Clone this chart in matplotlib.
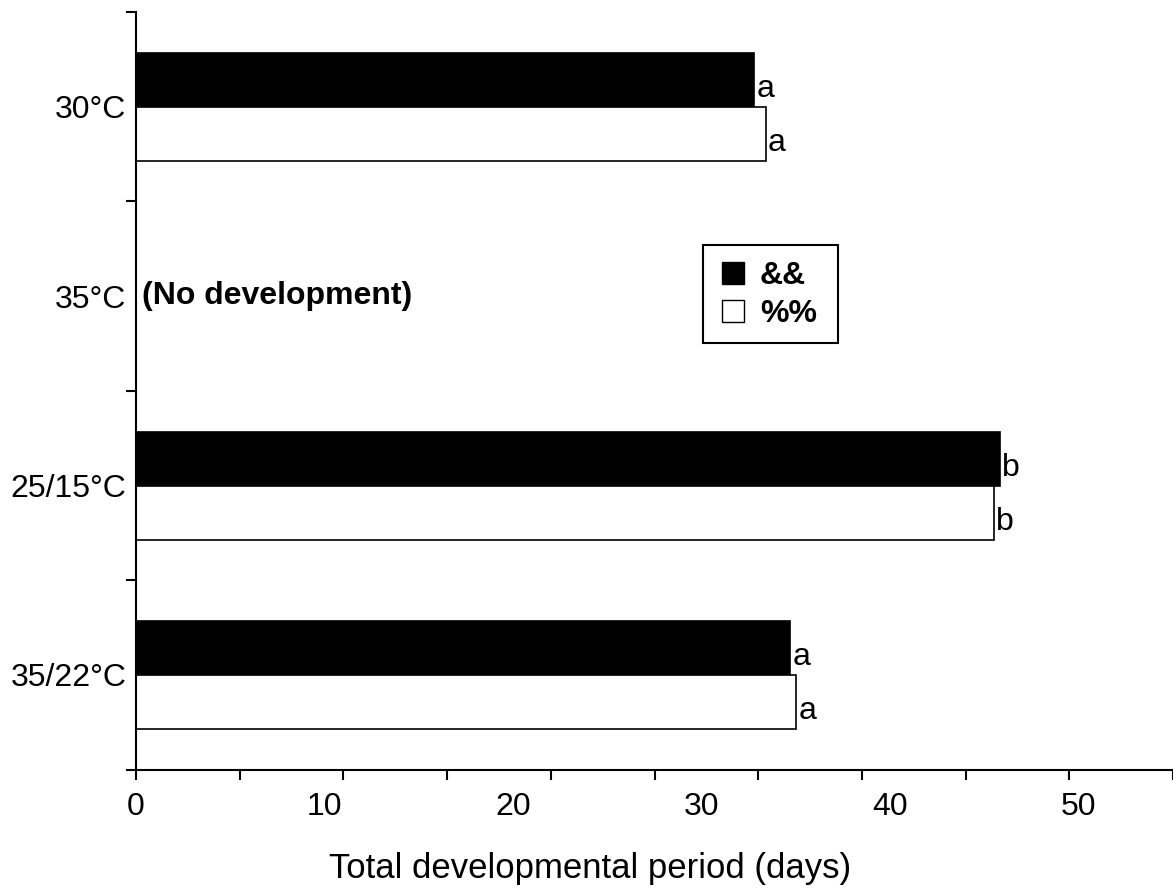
import numpy as np
import matplotlib
matplotlib.use('Agg')
import matplotlib.pyplot as plt
from matplotlib.patches import Patch, Rectangle

plt.rcParams['font.family'] = ['Liberation Sans', 'DejaVu Sans']

# Treatments, top to bottom
treatments = ['30°C', '35°C', '25/15°C', '35/22°C']
# Total developmental period (days); None = no development
males = [32.8, None, 45.8, 34.7]
females = [33.4, None, 45.5, 35.0]
male_letters = ['a', None, 'b', 'a']
female_letters = ['a', None, 'b', 'a']
tick_labels = [0, 10, 20, 30, 40, 50]

FS = 23

fig = plt.figure(figsize=(11.73, 8.96), dpi=100)
ax = fig.add_axes([0.116, 0.141, 0.884, 0.8456])

bar_h = 0.285
centers = np.arange(len(treatments)) + 0.5

for i, c in enumerate(centers):
    if males[i] is None:
        ax.text(0.3, c, '(No development)', fontsize=FS, fontweight='bold',
                ha='left', va='center')
        continue
    ax.barh(c - bar_h / 2, males[i], height=bar_h, color='black',
            edgecolor='black', linewidth=1.2)
    ax.barh(c + bar_h / 2, females[i], height=bar_h, color='white',
            edgecolor='black', linewidth=1.2)
    ax.text(males[i] + 0.12, c - 0.05, male_letters[i], fontsize=FS,
            ha='left', va='baseline')
    ax.text(females[i] + 0.12, c + bar_h - 0.05, female_letters[i], fontsize=FS,
            ha='left', va='baseline')

ax.set_xlim(0, 55)
ax.set_ylim(len(treatments), 0)

# tick marks every 5.5 days (as in the original), labels every 10
ax.xaxis.remove_overlapping_locs = False
ax.set_xticks(np.arange(0, 55.01, 5.5))
ax.set_xticklabels([])
ax.set_xticks(tick_labels, minor=True)
ax.set_xticklabels([str(t) for t in tick_labels], minor=True)
ax.tick_params(axis='x', which='major', direction='out', length=7, width=1.5)
ax.tick_params(axis='x', which='minor', length=0, pad=16, labelsize=FS)

ax.set_yticks(np.arange(0, len(treatments) + 1))
ax.set_yticklabels([])
ax.set_yticks(centers, minor=True)
ax.set_yticklabels(treatments, minor=True)
ax.tick_params(axis='y', which='major', direction='out', length=7, width=1.5)
ax.tick_params(axis='y', which='minor', length=0, pad=7, labelsize=FS)

for side in ['top', 'right']:
    ax.spines[side].set_visible(False)
for side in ['left', 'bottom']:
    ax.spines[side].set_linewidth(1.5)

handles = [Patch(facecolor='black', edgecolor='black', label='&&'),
           Patch(facecolor='white', edgecolor='black', label='%%')]
leg = fig.legend(handles=handles, loc='upper left',
                 bbox_to_anchor=(0.6151, 0.7088), bbox_transform=fig.transFigure,
                 frameon=False, prop={'size': FS, 'weight': 'bold'},
                 handlelength=0.7, handleheight=0.7, handletextpad=0.5,
                 borderpad=0.0, borderaxespad=0.0, labelspacing=0.26)
fig.add_artist(Rectangle((703 / 1173, 1 - 343 / 896), 135 / 1173, 98 / 896,
                         transform=fig.transFigure, facecolor='none',
                         edgecolor='black', linewidth=1.5))

fig.text(0.503, 0.031, 'Total developmental period (days)', fontsize=25,
         ha='center', va='center')

fig.savefig('out.png', dpi=100)
